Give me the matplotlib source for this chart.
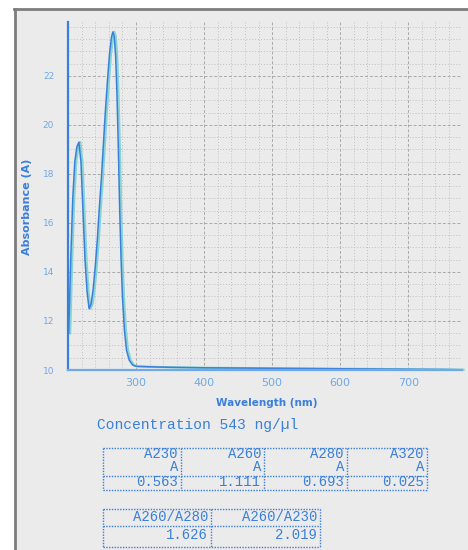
import matplotlib
matplotlib.use("Agg")
import matplotlib.pyplot as plt
import matplotlib.transforms as mtransforms
from matplotlib.patches import Rectangle
from matplotlib.lines import Line2D
from matplotlib.ticker import MultipleLocator

# spectrum
wavelength = [201, 204, 207, 210, 213, 216, 219, 222, 225, 228, 231, 234, 237,
              240, 243, 246, 249, 252, 255, 258, 261, 264, 266, 268, 270, 272,
              274, 276, 278, 280, 283, 286, 290, 295, 300, 320, 350, 400, 450,
              500, 550, 600, 650, 700, 750, 779]
absorb = [0.15, 0.45, 0.70, 0.85, 0.91, 0.93, 0.85, 0.65, 0.45, 0.32, 0.25,
          0.27, 0.33, 0.42, 0.53, 0.66, 0.78, 0.92, 1.06, 1.18, 1.29, 1.36,
          1.38, 1.36, 1.28, 1.12, 0.90, 0.65, 0.45, 0.30, 0.16, 0.08, 0.04,
          0.02, 0.015, 0.013, 0.011, 0.009, 0.008, 0.007, 0.006, 0.005, 0.004,
          0.003, 0.002, 0.001]

xticks = [300, 400, 500, 600, 700]
yticks = [0.0, 0.2, 0.4, 0.6, 0.8, 1.0, 1.2]
ytick_labels = ['10', '12', '14', '16', '18', '20', '22']

conc_text = "Concentration 543 ng/\u00b5l"
abs_names = ['A230', 'A260', 'A280', 'A320']
abs_values = ['0.563', '1.111', '0.693', '0.025']
ratio_names = ['A260/A280', 'A260/A230']
ratio_values = ['1.626', '2.019']

W, H = 468, 550
blue = '#3a7fd9'
light_blue = '#6fa9e6'
mono = 'Liberation Mono'

fig = plt.figure(figsize=(W / 100, H / 100), dpi=100)
fig.patch.set_facecolor('white')


def fx(px):
    return px / W


def fy(py):
    return 1 - py / H


# grey page with a dark frame on top / left
fig.patches.append(Rectangle((fx(15), 0), 1 - fx(15), fy(9), transform=fig.transFigure,
                             facecolor='#ebebeb', edgecolor='none', zorder=-10))
fig.lines.append(Line2D([fx(15), fx(15)], [0, fy(9)], transform=fig.transFigure,
                        color='#7d7d7d', lw=2, zorder=-5))
fig.lines.append(Line2D([fx(14), 1], [fy(9), fy(9)], transform=fig.transFigure,
                        color='#7d7d7d', lw=2, zorder=-5))

ax = fig.add_axes([fx(68), fy(370), (462 - 68) / W, (370 - 22) / H])
ax.set_zorder(5)
ax.set_facecolor('none')
ax.set_xlim(200, 779)
ax.set_ylim(0, 1.42)

ax.xaxis.set_major_locator(MultipleLocator(100))
ax.xaxis.set_minor_locator(MultipleLocator(20))
ax.yaxis.set_major_locator(MultipleLocator(0.2))
ax.yaxis.set_minor_locator(MultipleLocator(0.05))
ax.grid(which='major', color='#a9a9a9', linestyle=(0, (3, 2)), lw=0.7)
ax.grid(which='minor', color='#c0c0c0', linestyle=(0, (1, 2)), lw=0.7)
ax.set_axisbelow(True)

ax.set_xticks(xticks)
ax.set_yticks(yticks)
ax.set_yticklabels(ytick_labels)
ax.tick_params(which='both', length=0)
ax.tick_params(axis='x', colors=light_blue, labelsize=8, pad=6)
ax.tick_params(axis='y', colors=light_blue, labelsize=6.5, pad=10)

for s in ['top', 'right']:
    ax.spines[s].set_visible(False)
ax.spines['left'].set_color(blue)
ax.spines['left'].set_linewidth(1.6)
ax.spines['bottom'].set_color(light_blue)
ax.spines['bottom'].set_linewidth(1.6)

# ghost trace next to the main one
ghost = mtransforms.offset_copy(ax.transData, fig=fig, x=1.5, y=0, units='dots')
ax.plot(wavelength, absorb, color='#86d4d4', lw=1.6, transform=ghost, clip_on=False)
ax.plot(wavelength, absorb, color=blue, lw=1.1, clip_on=False)

ax.set_xlabel('Wavelength (nm)', color=blue, fontsize=7.5, fontweight='bold')
ax.xaxis.set_label_coords(0.505, -0.08)
ax.set_ylabel('Absorbance (A)', color=blue, fontsize=8, fontweight='bold')
ax.yaxis.set_label_coords(-0.092, 0.47)

fig.text(fx(97), fy(425), conc_text, color=blue, fontsize=10.5, family=mono,
         va='center', ha='left')

border = dict(color=blue, lw=1.0, linestyle=(0, (1, 1)), transform=fig.transFigure)


def hline(x0, x1, y):
    fig.lines.append(Line2D([fx(x0), fx(x1)], [fy(y), fy(y)], **border))


def vline(x, y0, y1):
    fig.lines.append(Line2D([fx(x), fx(x)], [fy(y0), fy(y1)], **border))


# table of absorbances
cols = [103, 181, 264, 347, 427]
top, mid, bot = 448, 476, 490
hline(cols[0], cols[-1], top)
hline(cols[0], cols[-1], mid)
hline(cols[0], cols[-1], bot)
for c in cols:
    vline(c, top, bot)
for i, (name, val) in enumerate(zip(abs_names, abs_values)):
    xr = cols[i + 1] - 3
    fig.text(fx(xr), fy(454), name, color=blue, fontsize=10, family=mono,
             ha='right', va='center')
    fig.text(fx(xr), fy(467), 'A', color=blue, fontsize=10, family=mono,
             ha='right', va='center')
    fig.text(fx(xr), fy(482), val, color=blue, fontsize=10, family=mono,
             ha='right', va='center')

# table of ratios
cols2 = [103, 211, 320]
top2, mid2, bot2 = 509, 526, 547
hline(cols2[0], cols2[-1], top2)
hline(cols2[0], cols2[-1], mid2)
hline(cols2[0], cols2[-1], bot2)
for c in cols2:
    vline(c, top2, bot2)
for i, (name, val) in enumerate(zip(ratio_names, ratio_values)):
    xr = cols2[i + 1] - 3
    fig.text(fx(xr), fy(517), name, color=blue, fontsize=10, family=mono,
             ha='right', va='center')
    fig.text(fx(xr), fy(535), val, color=blue, fontsize=10, family=mono,
             ha='right', va='center')

fig.savefig('out.png', dpi=100, facecolor=fig.get_facecolor())
